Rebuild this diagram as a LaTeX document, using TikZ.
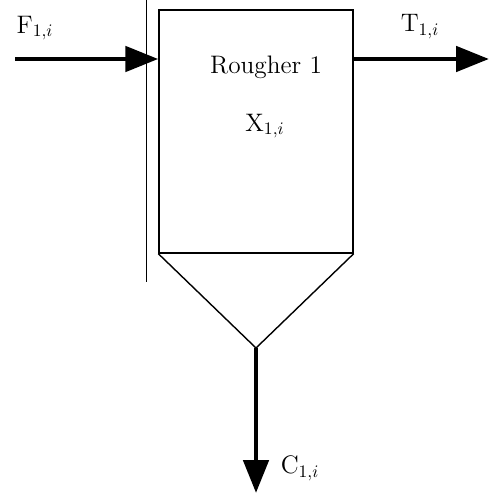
\documentclass[tikz,border=0pt]{standalone}
\usetikzlibrary{arrows.meta}
\tikzset{
  stream/.style={line width=2.8pt, -{Triangle[length=0.66cm,width=0.5cm]}},
  label/.style={font=\Large, inner sep=0pt}
}
\begin{document}
\begin{tikzpicture}[x=0.02cm, y=-0.02cm]
\useasboundingbox (0,0) rectangle (489,493);
\node[draw, line width=0.8pt, minimum width=3.88cm, minimum height=4.86cm, inner sep=0pt] (rougher) at (256,131.5) {};
\node[label] (name) at (266,67) {Rougher 1};
\node[label] (grade) at (265,126) {X$_{1,i}$};

\coordinate (apex) at (256,348);
\draw[line width=0.8pt] (rougher.south west) -- (apex) -- (rougher.south east);

\coordinate (walltop) at (146,0);
\coordinate (wallbot) at (146,282);
\draw[line width=0.5pt] (walltop) -- (wallbot);

\coordinate (feed) at (15,59);
\coordinate (tails) at (489,59);
\coordinate (conc) at (256,493);
\draw[stream] (feed) -- (feed -| rougher.west);
\draw[stream] (tails -| rougher.east) -- (tails);
\draw[stream] (apex) -- (conc);

\node[label] (feedlabel) at (35,28) {F$_{1,i}$};
\node[label] (tailslabel) at (420,27) {T$_{1,i}$};
\node[label] (conclabel) at (300,468) {C$_{1,i}$};
\end{tikzpicture}
\end{document}
